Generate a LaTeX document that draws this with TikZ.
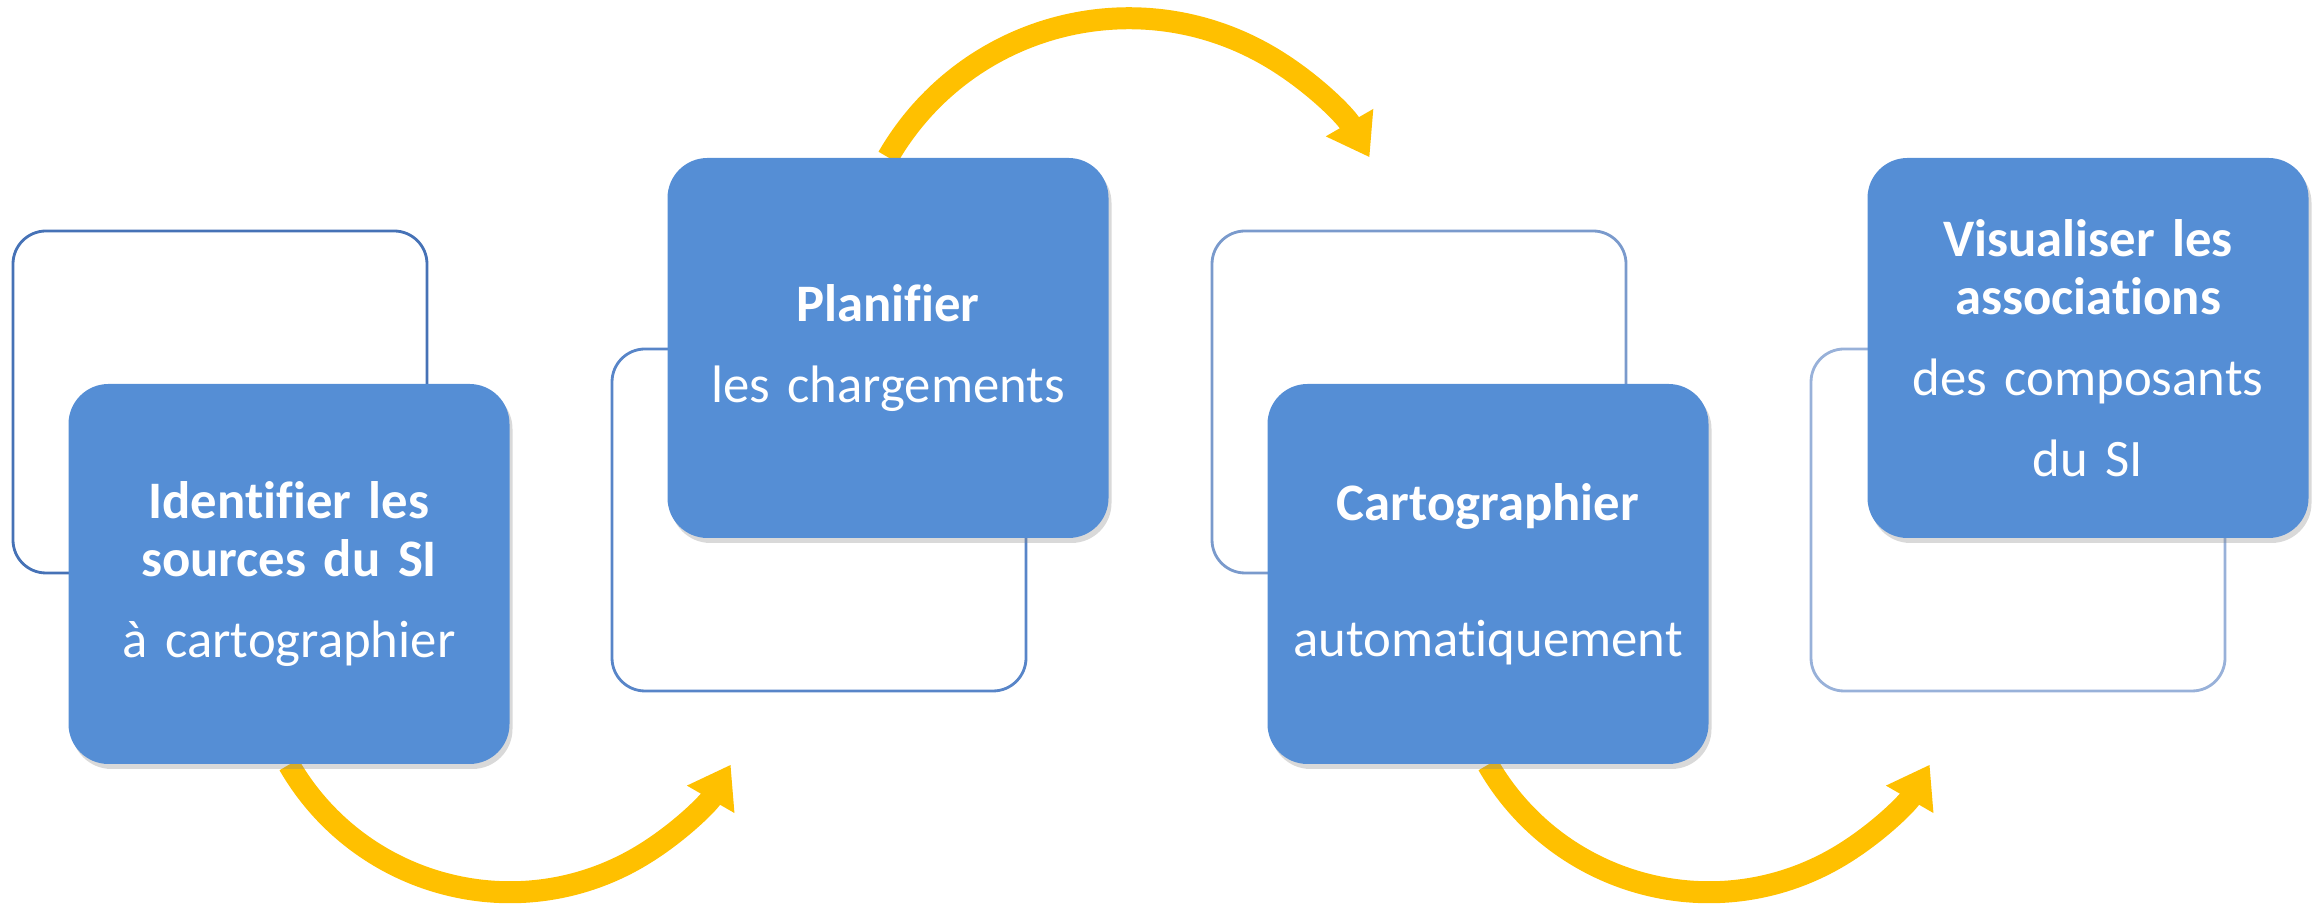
\documentclass[tikz,border=0pt]{standalone}
\usepackage{fontspec}
\setmainfont{Carlito}[Ligatures=NoCommon]
\usetikzlibrary{arrows.meta,shadows,backgrounds}
\definecolor{cardblue}{RGB}{85,142,213}
\definecolor{edgeA}{RGB}{70,114,182}
\definecolor{edgeB}{RGB}{88,133,200}
\definecolor{edgeC}{RGB}{122,154,204}
\definecolor{edgeD}{RGB}{152,177,217}
\definecolor{flowyellow}{RGB}{255,192,0}
\tikzset{
  card/.style={fill=cardblue, text=white, rounded corners=0.4cm, minimum width=4.41cm, minimum height=3.8cm,
    text width=4.3cm, inner sep=0.05cm, align=center, font=\fontsize{15}{16.5}\selectfont,
    drop shadow={shadow xshift=0.03cm, shadow yshift=-0.05cm, opacity=0.3}},
  backbox/.style={draw=#1, line width=0.8pt, rounded corners=0.33cm, minimum width=4.14cm, minimum height=3.42cm, inner sep=0pt},
  flow/.style={draw=flowyellow, line width=0.22cm, -{Triangle[width=0.52cm,length=0.4cm]}}
}

\begin{document}
\begin{tikzpicture}
  \useasboundingbox (0,0) rectangle (23.18,9.04);
  \node[backbox=edgeA] (identback) at ( 2.20,5.02) {};
  \node[backbox=edgeB] (planback)  at ( 8.19,3.84) {};
  \node[backbox=edgeC] (cartoback) at (14.19,5.02) {};
  \node[backbox=edgeD] (visuback)  at (20.18,3.84) {};

  \node[card] (ident) at ( 2.89,3.30) {\textbf{Identifier les}\\\textbf{sources du SI}\\[6.5pt]à cartographier};
  \node[card] (plan)  at ( 8.88,5.56) {\textbf{Planifier}\\[6.5pt]les chargements};
  \node[card] (carto) at (14.88,3.30) {\textbf{Cartographier}\\[22.2pt]automatiquement};
  \node[card] (visu)  at (20.88,5.56) {\textbf{Visualiser les}\\\textbf{associations}\\[6.5pt]des composants\\[6.5pt]du SI};

  \begin{scope}[on background layer]
    \draw[flow] (ident.south) arc[start angle=210, end angle=330, radius=2.55cm];
    \draw[flow] (plan.north)  arc[start angle=150, end angle=30,  radius=2.78cm];
    \draw[flow] (carto.south) arc[start angle=210, end angle=330, radius=2.55cm];
  \end{scope}
\end{tikzpicture}
\end{document}
